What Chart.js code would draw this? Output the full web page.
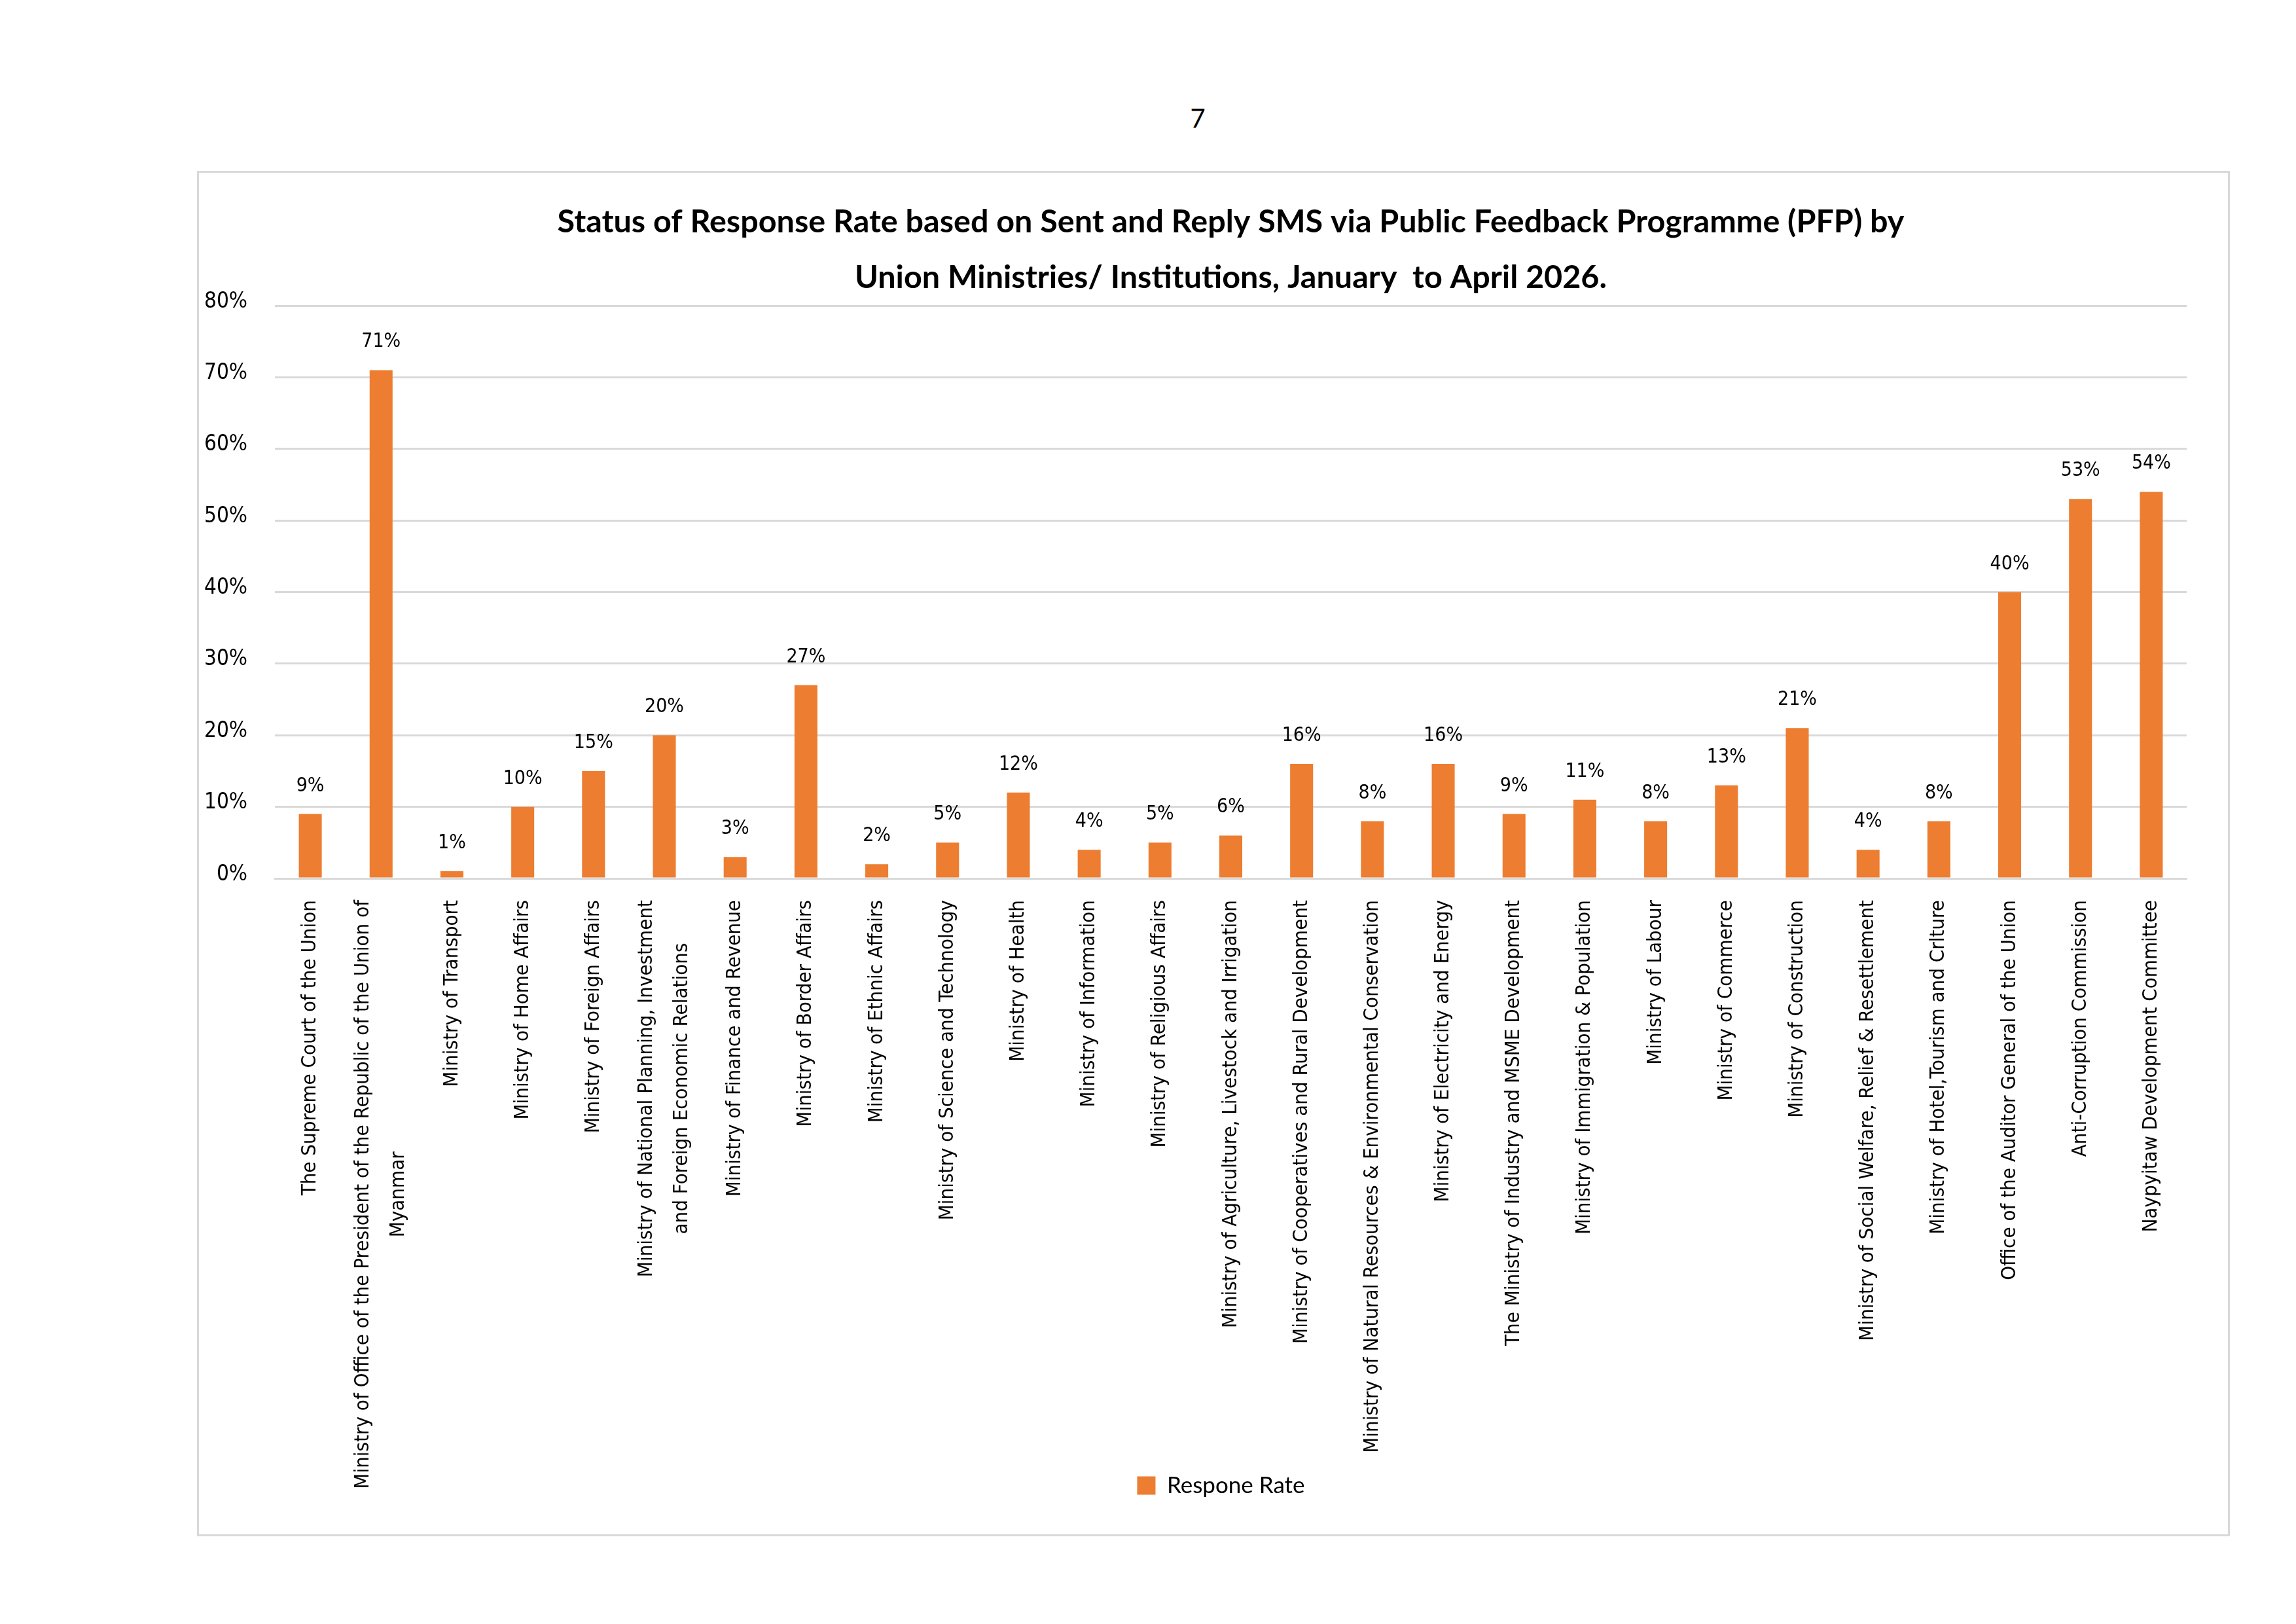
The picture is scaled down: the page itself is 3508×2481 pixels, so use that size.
<!DOCTYPE html>
<html>
<head>
<meta charset="utf-8">
<title>Status of Response Rate</title>
<script src="https://cdn.jsdelivr.net/npm/chart.js@4.4.1/dist/chart.umd.min.js"></script>
<style>
  html, body { margin: 0; padding: 0; background: #fff; }
  #page { position: relative; width: 3508px; height: 2481px; overflow: hidden; }
  #pageno { position: absolute; left: 1730px; top: 160px; width: 200px; text-align: center;
            font: 40px/40px Lato, sans-serif; color: #000; }
  #frame { position: absolute; left: 301px; top: 261px; width: 3106px; height: 2086px;
           border: 3px solid #d9d9d9; box-sizing: border-box; }
  #wrap { position: absolute; left: 0; top: 0; width: 3508px; height: 2481px; }
</style>
</head>
<body>
<div id="page">
  <div id="pageno">7</div>
  <div id="frame"></div>
  <div id="wrap"><canvas id="mycanvas"></canvas></div>
</div>
<script>
var titleLines = [
  'Status of Response Rate based on Sent and Reply SMS via Public Feedback Programme (PFP) by',
  'Union Ministries/ Institutions, January  to April 2026.'
];
var seriesName = 'Respone Rate';

var categories = [
  'The Supreme Court of the Union',
  ['Ministry of Office of the President of the Republic of the Union of', 'Myanmar'],
  'Ministry of Transport',
  'Ministry of Home Affairs',
  'Ministry of Foreign Affairs',
  ['Ministry of National Planning, Investment', 'and Foreign Economic Relations'],
  'Ministry of Finance and Revenue',
  'Ministry of Border Affairs',
  'Ministry of Ethnic Affairs',
  'Ministry of Science and Technology',
  'Ministry of Health',
  'Ministry of Information',
  'Ministry of Religious Affairs',
  'Ministry of Agriculture, Livestock and Irrigation',
  'Ministry of Cooperatives and Rural Development',
  'Ministry of Natural Resources & Environmental Conservation',
  'Ministry of Electricity and Energy',
  'The Ministry of Industry and MSME Development',
  'Ministry of Immigration & Population',
  'Ministry of Labour',
  'Ministry of Commerce',
  'Ministry of Construction',
  'Ministry of Social Welfare, Relief & Resettlement',
  'Ministry of Hotel,Tourism and Crlture',
  'Office of the Auditor General of the Union',
  'Anti-Corruption Commission',
  'Naypyitaw Development Committee'
];

// percent values
var responseRate = [9, 71, 1, 10, 15, 20, 3, 27, 2, 5, 12, 4, 5, 6, 16, 8, 16, 9, 11, 8, 13, 21, 4, 8, 40, 53, 54];

var yMin = 0;
var yMax = 80;
var yStep = 10;

var labelFont = '"DejaVu Sans Condensed", "DejaVu Sans", sans-serif';
var barColor = '#ED7D31';
var gridColor = '#d9d9d9';

// fit the title font so the first line spans the same width as the picture
var mctx = document.createElement('canvas').getContext('2d');
mctx.font = 'bold 100px Lato';
var titleSize = 100 * 2058 / mctx.measureText(titleLines[0]).width;

// value labels above each bar
var valueLabels = {
  id: 'valueLabels',
  afterDatasetsDraw: function(chart) {
    var ctx = chart.ctx;
    var meta = chart.getDatasetMeta(0);
    ctx.save();
    ctx.font = '30px ' + labelFont;
    ctx.fillStyle = '#000';
    ctx.textAlign = 'center';
    ctx.textBaseline = 'alphabetic';
    meta.data.forEach(function(bar, i) {
      ctx.fillText(responseRate[i] + '%', bar.x, bar.y - 35);
    });
    ctx.restore();
  }
};

// two-line category labels are centred on their tick, like in the sheet
var centerLabels = {
  id: 'centerLabels',
  beforeDraw: function(chart) {
    var scale = chart.scales.x;
    var ctx = chart.ctx;
    var items = scale.getLabelItems();
    items.forEach(function(item) {
      if (!Array.isArray(item.label) || item._centered) return;
      ctx.save();
      ctx.font = item.font.string;
      var widest = 0;
      item.label.forEach(function(l) {
        widest = Math.max(widest, ctx.measureText(l).width);
      });
      ctx.restore();
      var lh = item.font.lineHeight;
      item.options.translation[0] -= (item.label.length - 1) * lh / 2;
      item.options.translation[1] += widest / 2;
      item.options.textAlign = 'center';
      item._centered = true;
    });
  }
};

// the legend sits beside the long labels, not under them
var legendShift = {
  id: 'legendShift',
  afterLayout: function(chart) {
    var lg = chart.legend;
    var h = lg.bottom - lg.top;
    lg.top = chart.chartArea.bottom + 900;
    lg.bottom = lg.top + h;
    lg.left -= 15;
    lg.right -= 15;
  }
};

var chartdata = {
  labels: categories,
  datasets: [
    {
      label: seriesName,
      backgroundColor: barColor,
      borderWidth: 0,
      barPercentage: 0.324,
      categoryPercentage: 1.0,
      data: responseRate
    }
  ]
};

var ctx = document.getElementById('mycanvas');

var barGraph = new Chart(ctx, {
  type: 'bar',
  data: chartdata,
  plugins: [valueLabels, centerLabels, legendShift],
  options: {
    responsive: true,
    maintainAspectRatio: false,
    animation: false,
    devicePixelRatio: 1,
    layout: {
      padding: { left: 302, right: 167, top: 0, bottom: 119 }
    },
    plugins: {
      title: {
        display: true,
        text: titleLines,
        fullSize: false,
        color: '#000',
        font: { family: 'Lato', weight: 'bold', size: titleSize, lineHeight: 85 / titleSize },
        padding: { top: 297, bottom: 0 }
      },
      legend: {
        display: true,
        position: 'bottom',
        align: 'center',
        fullSize: false,
        labels: {
          boxWidth: 28,
          boxHeight: 28,
          padding: 10,
          color: '#000',
          font: { family: 'Lato', size: 35 }
        }
      },
      tooltip: { enabled: false }
    },
    scales: {
      x: {
        grid: { display: false },
        border: { display: true, color: gridColor, width: 3 },
        ticks: {
          autoSkip: false,
          minRotation: 90,
          maxRotation: 90,
          padding: 25,
          color: '#000',
          font: { family: labelFont, size: 31, lineHeight: 1.74 }
        },
        afterFit: function(scale) { scale.height = 965; }
      },
      y: {
        min: yMin,
        max: yMax,
        grid: { color: gridColor, lineWidth: 3, drawTicks: false },
        border: { display: false },
        ticks: {
          stepSize: yStep,
          padding: 42,
          labelOffset: -6,
          color: '#000',
          font: { family: labelFont, size: 33 },
          callback: function(v) { return v + '%'; }
        },
        afterFit: function(scale) { scale.width = 118; }
      }
    }
  }
});
</script>
</body>
</html>
